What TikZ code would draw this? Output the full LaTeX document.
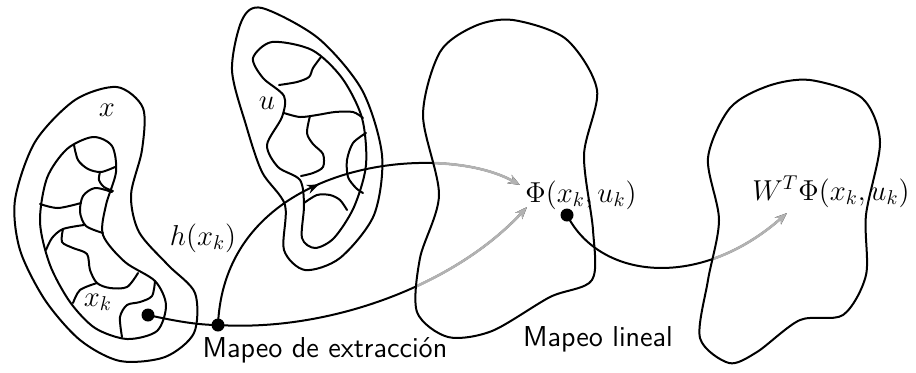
\documentclass[tikz,border=0pt]{standalone}
\usetikzlibrary{arrows.meta,decorations.markings}
\begin{document}
\begin{tikzpicture}[x=0.5pt,y=-0.5pt, line width=1pt, line join=round, line cap=round,
  dot/.style={circle,fill=black,inner sep=0pt,minimum size=6.5pt},
  lbl/.style={font=\Large, inner sep=0pt},
  txt/.style={font=\Large\sffamily, inner sep=0pt},
  tipped/.style={-{Stealth[length=6pt,width=4.6pt]}},
  greyline/.style={draw=black!30, line width=1.3pt},
  midarrow/.style={postaction={decorate, decoration={markings,
      mark=at position #1 with {\arrow{Stealth[length=6pt,width=4.6pt]}}}}}]
\useasboundingbox (0,0) rectangle (916,372);

\def\XOuter{plot[smooth cycle] coordinates {(117,87) (143,108) (142,150) (131,195) (139,232) (168,265) (195,293) (194,333) (165,357) (120,361) (80,340) (45,300) (20,250) (15,200) (35,142) (75,100)}}
\def\XInner{plot[smooth cycle] coordinates {(93,137) (112,146) (116,172) (106,205) (103,235) (125,262) (155,281) (166,305) (157,331) (127,339) (95,328) (70,302) (50,265) (40,222) (47,178) (67,149)}}
\def\UOuter{plot[smooth cycle] coordinates {(262,8) (318,38) (362,90) (382,155) (374,215) (340,258) (305,270) (284,250) (285,205) (262,172) (246,125) (232,70) (242,20)}}
\def\UInner{plot[smooth cycle] coordinates {(272,42) (312,50) (342,78) (362,118) (366,165) (354,207) (334,238) (315,248) (302,238) (304,205) (300,180) (278,167) (267,145) (282,117) (284,96) (263,78) (253,58)}}
\def\PhiShape{plot[smooth cycle] coordinates {(513,20) (566,39) (597,90) (584,155) (593,230) (592,280) (550,297) (492,331) (448,337) (417,312) (420,258) (439,195) (423,115) (440,52) (475,26)}}
\def\WShape{plot[smooth cycle] coordinates {(810,80) (862,98) (880,142) (866,215) (866,275) (843,315) (800,320) (757,352) (729,363) (700,338) (708,280) (719,220) (708,158) (730,108) (768,86)}}

% shapes
\draw \XOuter;
\draw \XInner;
\draw \UOuter;
\draw \UInner;

% cells inside x
\draw plot[smooth] coordinates {(74,145) (78,160) (88,169) (101,172) (115,167)};
\draw plot[smooth] coordinates {(100,172) (99,180) (104,187) (113,191)};
\draw plot[smooth] coordinates {(112,192) (95,188) (83,196) (80,212) (86,226) (103,233)};
\draw plot[smooth] coordinates {(40,204) (58,208) (81,203)};
\draw plot[smooth] coordinates {(46,250) (52,238) (63,229) (84,225)};
\draw plot[smooth] coordinates {(63,229) (62,242) (73,248) (87,254) (90,270) (97,283) (110,288) (127,287) (138,273)};
\draw plot[smooth] coordinates {(73,303) (80,290) (97,283)};
\draw plot[smooth] coordinates {(155,281) (152,296) (140,302) (127,305) (120,317) (122,337)};

% cells inside u
\draw plot[smooth] coordinates {(321,57) (313,68) (309,77) (297,82) (279,85)};
\draw plot[smooth] coordinates {(284,113) (300,117) (317,115) (335,112) (353,112) (363,118)};
\draw plot[smooth] coordinates {(310,116) (307,133) (313,144) (323,154) (323,167) (313,173) (301,176)};
\draw plot[smooth] coordinates {(366,133) (353,143) (347,160) (348,177) (356,188) (363,193)};
\draw plot[smooth] coordinates {(304,203) (317,195) (330,195) (340,200) (347,210)};

% dots and end points
\node[dot] (d1) at (148,315) {};
\node[dot] (d2) at (218,325) {};
\coordinate (d3) at (567,215);
\coordinate (eB) at (527,207);
\coordinate (eC) at (520,185);
\coordinate (eD) at (787,213);

% connectors (black)
\draw (d1.center) .. controls (175,321) and (198,325) .. (d2.center);
\draw[tipped] (d2.center) .. controls (330,332) and (455,285) .. (eB);
\draw[tipped, midarrow=0.47] (d2.center) .. controls (225,160) and (440,140) .. (eC);
\draw[tipped] (d3) .. controls (600,280) and (700,290) .. (eD);

% grey parts inside target regions
\begin{scope}
\clip \PhiShape;
\draw[tipped, greyline] (d2.center) .. controls (330,332) and (455,285) .. (eB);
\draw[tipped, greyline] (d2.center) .. controls (225,160) and (440,140) .. (eC);
\end{scope}
\begin{scope}
\clip \WShape;
\draw[tipped, greyline] (d3) .. controls (600,280) and (700,290) .. (eD);
\end{scope}
\draw \PhiShape;
\draw \WShape;
\node[dot] (d3n) at (d3) {};

% labels
\node[lbl] (lx) at (107,110) {$x$};
\node[lbl] (lu) at (267,103) {$u$};
\node[lbl] (lxk) at (98,302) {$x_k$};
\node[lbl] (lh) at (203,238) {$h(x_k)$};
\node[lbl, anchor=base] (lphi) at (581,202) {$\Phi(x_k,u_k)$};
\node[lbl, anchor=base] (lw) at (831,200) {$W^T\Phi(x_k,u_k)$};
\node[txt, anchor=base] (t1) at (325,357) {Mapeo de extracción};
\node[txt, anchor=base] (t2) at (598,346) {Mapeo lineal};
\end{tikzpicture}
\end{document}
